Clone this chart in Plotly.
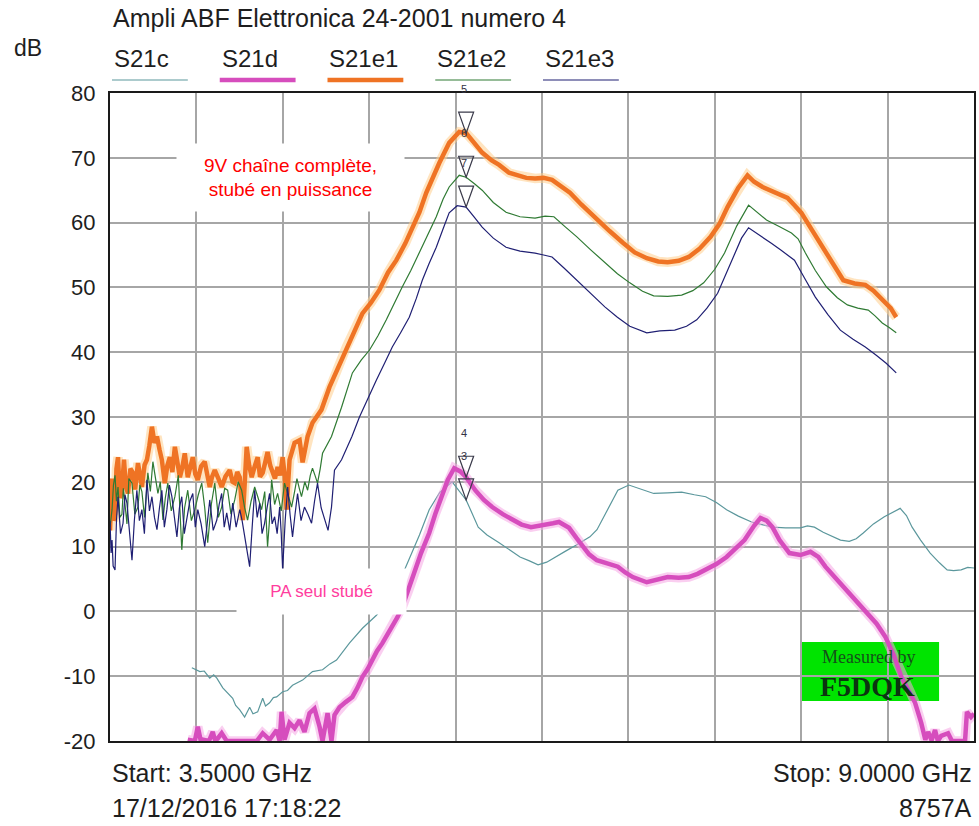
import plotly.graph_objects as go

# ---------------------------------------------------------------------------
# Sweep data, frequency in GHz, transmission S21 in dB
# ---------------------------------------------------------------------------
s21c_freq = [4.021, 4.050, 4.072, 4.100, 4.135, 4.160, 4.180, 4.218, 4.250, 4.281,
             4.300, 4.326, 4.357, 4.389, 4.410, 4.440, 4.472, 4.490, 4.516, 4.540,
             4.561, 4.599, 4.630, 4.662, 4.726, 4.789, 4.853, 4.900, 4.942, 5.024,
             5.107, 5.196, 5.250, 5.297, 5.350, 5.405, 5.470, 5.532, 5.600, 5.678,
             5.720, 5.767, 5.844, 5.900, 5.977, 6.040, 6.110, 6.170, 6.225, 6.280,
             6.333, 6.400, 6.466, 6.555, 6.600, 6.644, 6.690, 6.733, 6.803, 6.880,
             6.961, 7.050, 7.139, 7.220, 7.292, 7.360, 7.425, 7.500, 7.584, 7.650,
             7.717, 7.800, 7.895, 7.940, 7.984, 8.040, 8.098, 8.150, 8.206, 8.250,
             8.295, 8.360, 8.429, 8.480, 8.530, 8.570, 8.606, 8.660, 8.721, 8.780,
             8.829, 8.870, 8.918, 8.960, 9.000]
s21c_db = [-8.7, -9.0, -9.3, -9.2, -10.3, -9.8, -10.3, -11.8, -12.6, -13.4,
           -14.5, -15.2, -16.3, -14.8, -15.8, -15.5, -13.4, -14.6, -14.1, -13.3,
           -13.2, -12.4, -12.2, -11.4, -10.6, -9.3, -9.0, -8.1, -7.5, -4.9,
           -2.6, -0.6, 1.0, 2.5, 5.0, 8.0, 11.8, 15.7, 18.4, 20.0,
           18.6, 17.2, 13.0, 11.8, 10.6, 9.5, 8.4, 7.8, 7.2, 7.6,
           8.4, 9.3, 10.2, 11.5, 12.6, 14.6, 16.8, 18.7, 19.5, 18.9,
           18.2, 18.3, 18.4, 18.0, 17.7, 16.8, 15.7, 14.7, 13.8, 13.4,
           13.0, 12.9, 12.9, 13.2, 13.0, 12.2, 11.5, 11.0, 10.8, 11.2,
           12.1, 13.5, 14.6, 15.2, 15.9, 14.8, 13.0, 11.0, 9.0, 7.5,
           6.4, 6.3, 6.4, 6.8, 6.7]

s21d_freq = [3.995, 4.040, 4.059, 4.078, 4.091, 4.130, 4.154, 4.170, 4.186, 4.211,
             4.243, 4.434, 4.472, 4.516, 4.561, 4.580, 4.592, 4.611, 4.643, 4.675,
             4.707, 4.738, 4.770, 4.802, 4.834, 4.853, 4.885, 4.910, 4.929, 4.961,
             5.000, 5.043, 5.075, 5.107, 5.140, 5.170, 5.200, 5.234, 5.265, 5.297,
             5.330, 5.361, 5.400, 5.437, 5.480, 5.532, 5.570, 5.610, 5.650, 5.691,
             5.730, 5.767, 5.825, 5.880, 5.933, 6.000, 6.066, 6.120, 6.180, 6.269,
             6.320, 6.358, 6.422, 6.470, 6.510, 6.550, 6.599, 6.660, 6.733, 6.780,
             6.828, 6.917, 6.980, 7.050, 7.120, 7.184, 7.240, 7.292, 7.360, 7.425,
             7.480, 7.539, 7.600, 7.641, 7.680, 7.717, 7.762, 7.800, 7.825, 7.895,
             7.959, 8.009, 8.054, 8.120, 8.187, 8.250, 8.321, 8.380, 8.435, 8.490,
             8.537, 8.580, 8.625, 8.664, 8.690, 8.708, 8.730, 8.752, 8.770, 8.791,
             8.835, 8.860, 8.943, 8.955, 8.962, 8.981, 9.000]
s21d_db = [-19.8, -20.0, -17.8, -20.0, -19.8, -20.0, -18.6, -20.0, -19.6, -18.8,
           -20.0, -20.0, -18.8, -19.8, -18.3, -20.0, -15.5, -19.8, -17.2, -18.0,
           -16.8, -18.6, -15.7, -15.0, -17.8, -20.0, -15.7, -20.0, -16.0, -14.8,
           -14.0, -13.2, -11.8, -10.1, -8.9, -7.5, -6.1, -4.9, -3.7, -2.4,
           -0.9, 0.7, 3.2, 6.0, 9.0, 12.1, 15.0, 17.5, 20.3, 22.1,
           21.6, 20.7, 18.7, 17.2, 16.1, 15.0, 14.1, 13.4, 13.0, 13.3,
           13.6, 13.8, 12.9, 11.3, 9.9, 8.8, 7.9, 7.4, 6.9, 6.0,
           5.3, 4.5, 4.9, 5.3, 5.2, 5.3, 5.8, 6.4, 7.3, 8.4,
           9.6, 11.0, 13.2, 14.4, 14.0, 13.0, 11.0, 9.8, 9.0, 8.7,
           9.2, 8.4, 6.9, 5.1, 3.3, 1.6, -0.2, -1.9, -3.9, -6.8,
           -10.1, -12.0, -14.1, -17.2, -19.8, -18.6, -19.9, -18.3, -20.0, -19.2,
           -18.8, -20.0, -20.0, -15.5, -15.7, -16.3, -15.8]

s21e1_freq = [3.500, 3.507, 3.513, 3.522, 3.532, 3.541, 3.551, 3.563, 3.576, 3.589,
              3.600, 3.614, 3.630, 3.646, 3.660, 3.678, 3.690, 3.703, 3.720, 3.735,
              3.750, 3.767, 3.783, 3.799, 3.815, 3.830, 3.849, 3.865, 3.881, 3.897,
              3.913, 3.930, 3.945, 3.960, 3.976, 3.995, 4.010, 4.027, 4.043, 4.059,
              4.080, 4.103, 4.120, 4.135, 4.150, 4.167, 4.190, 4.211, 4.235, 4.262,
              4.280, 4.294, 4.310, 4.326, 4.345, 4.358, 4.370, 4.386, 4.402, 4.420,
              4.440, 4.455, 4.472, 4.488, 4.503, 4.520, 4.535, 4.550, 4.567, 4.583,
              4.599, 4.612, 4.624, 4.633, 4.643, 4.675, 4.707, 4.726, 4.758, 4.789,
              4.846, 4.897, 4.950, 5.005, 5.060, 5.107, 5.160, 5.215, 5.270, 5.323,
              5.380, 5.424, 5.470, 5.513, 5.560, 5.596, 5.659, 5.723, 5.767, 5.820,
              5.869, 5.930, 5.977, 6.040, 6.091, 6.150, 6.206, 6.260, 6.314, 6.370,
              6.428, 6.500, 6.580, 6.680, 6.765, 6.840, 6.917, 6.990, 7.050, 7.120,
              7.184, 7.250, 7.323, 7.380, 7.431, 7.500, 7.558, 7.600, 7.654, 7.730,
              7.813, 7.860, 7.901, 7.970, 8.035, 8.100, 8.168, 8.240, 8.308, 8.360,
              8.416, 8.470, 8.505]
s21e1_db = [12.5, 19.0, 20.5, 14.0, 15.0, 22.0, 23.8, 17.5, 18.7, 23.4,
            19.5, 18.2, 22.0, 21.4, 18.8, 22.9, 21.0, 19.2, 22.6, 23.4,
            25.5, 28.5, 26.0, 27.0, 25.0, 23.4, 19.8, 22.5, 23.8, 21.5,
            25.4, 23.0, 20.7, 22.2, 24.4, 20.7, 22.0, 23.8, 21.2, 20.3,
            22.4, 23.1, 21.0, 19.2, 20.8, 21.8, 20.5, 19.2, 20.8, 21.8,
            20.0, 19.8, 21.5, 20.7, 14.1, 19.0, 25.4, 22.5, 20.7, 22.3,
            23.8, 20.8, 21.4, 23.0, 24.6, 22.5, 21.4, 20.5, 22.3, 21.0,
            23.8, 21.0, 15.7, 19.5, 23.4, 26.0, 26.4, 23.0, 27.0, 29.1,
            31.1, 34.6, 37.5, 40.8, 43.6, 46.0, 47.6, 49.6, 52.3, 54.2,
            56.8, 59.3, 61.6, 64.6, 67.4, 69.2, 72.3, 74.0, 73.8, 72.3,
            70.8, 69.6, 68.9, 67.7, 67.3, 66.9, 66.8, 66.9, 66.6, 65.6,
            64.6, 62.8, 60.9, 58.7, 56.9, 55.4, 54.5, 54.0, 53.9, 54.1,
            54.7, 55.9, 57.8, 59.8, 62.4, 65.4, 67.3, 66.3, 65.5, 64.6,
            63.8, 62.6, 61.5, 58.8, 56.2, 53.6, 51.1, 50.6, 50.4, 49.5,
            48.1, 46.8, 45.4]

s21e2_freq = [3.500, 3.513, 3.522, 3.532, 3.541, 3.551, 3.563, 3.576, 3.585, 3.595,
              3.608, 3.620, 3.640, 3.658, 3.678, 3.690, 3.703, 3.720, 3.741, 3.757,
              3.773, 3.790, 3.805, 3.820, 3.837, 3.852, 3.868, 3.890, 3.913, 3.935,
              3.947, 3.957, 3.975, 3.995, 4.018, 4.040, 4.062, 4.084, 4.103, 4.122,
              4.145, 4.167, 4.190, 4.211, 4.230, 4.249, 4.270, 4.294, 4.316, 4.338,
              4.357, 4.376, 4.398, 4.421, 4.443, 4.465, 4.485, 4.503, 4.515, 4.529,
              4.548, 4.567, 4.590, 4.611, 4.633, 4.656, 4.675, 4.690, 4.705, 4.719,
              4.740, 4.758, 4.775, 4.789, 4.805, 4.821, 4.838, 4.853, 4.910, 4.974,
              5.043, 5.100, 5.151, 5.205, 5.259, 5.310, 5.361, 5.415, 5.469, 5.525,
              5.577, 5.620, 5.659, 5.723, 5.767, 5.820, 5.869, 5.940, 6.021, 6.110,
              6.206, 6.270, 6.326, 6.400, 6.472, 6.560, 6.650, 6.730, 6.809, 6.890,
              6.961, 7.050, 7.139, 7.210, 7.279, 7.350, 7.412, 7.490, 7.565, 7.620,
              7.679, 7.760, 7.838, 7.880, 7.927, 7.990, 8.060, 8.130, 8.194, 8.260,
              8.327, 8.370, 8.416, 8.460, 8.505]
s21e2_db = [13.0, 15.7, 19.5, 21.0, 17.0, 19.2, 14.5, 15.0, 19.0, 16.7,
            13.5, 20.5, 19.8, 15.0, 16.1, 19.5, 18.5, 14.5, 21.4, 18.5,
            23.1, 20.5, 18.2, 20.0, 14.1, 17.5, 19.8, 15.5, 17.7, 21.0,
            15.0, 9.5, 16.0, 18.7, 14.0, 15.7, 18.0, 19.8, 16.0, 10.6,
            16.5, 19.8, 14.5, 16.1, 19.0, 18.7, 15.0, 17.2, 20.0, 18.7,
            16.0, 14.1, 17.0, 19.2, 17.5, 15.7, 18.5, 10.0, 14.0, 20.3,
            16.5, 18.2, 15.5, 19.8, 18.0, 16.1, 18.5, 20.5, 19.0, 17.7,
            20.0, 18.7, 21.0, 22.1, 21.0, 19.8, 22.0, 24.4, 27.0, 31.5,
            36.8, 38.8, 40.3, 42.5, 45.0, 47.6, 50.1, 52.6, 55.3, 58.2,
            60.9, 63.6, 65.5, 67.3, 67.0, 66.0, 65.0, 63.1, 61.6, 60.9,
            60.7, 61.0, 60.9, 59.3, 57.8, 55.8, 53.8, 52.1, 50.7, 49.4,
            48.7, 48.6, 48.8, 49.5, 50.7, 52.8, 55.3, 59.5, 62.7, 61.6,
            60.4, 59.4, 58.4, 57.5, 55.3, 52.6, 50.1, 48.4, 47.3, 46.8,
            46.5, 45.6, 44.5, 43.8, 43.0]

s21e3_freq = [3.500, 3.507, 3.513, 3.520, 3.532, 3.541, 3.551, 3.567, 3.583, 3.595,
              3.608, 3.624, 3.640, 3.655, 3.671, 3.687, 3.703, 3.719, 3.735, 3.751,
              3.767, 3.783, 3.799, 3.815, 3.830, 3.846, 3.862, 3.878, 3.894, 3.910,
              3.926, 3.942, 3.957, 3.973, 3.989, 4.008, 4.027, 4.043, 4.059, 4.080,
              4.103, 4.119, 4.135, 4.157, 4.180, 4.195, 4.211, 4.227, 4.243, 4.262,
              4.281, 4.303, 4.326, 4.341, 4.357, 4.373, 4.389, 4.405, 4.421, 4.437,
              4.453, 4.468, 4.484, 4.500, 4.516, 4.532, 4.548, 4.564, 4.580, 4.590,
              4.599, 4.615, 4.631, 4.646, 4.662, 4.678, 4.694, 4.716, 4.738, 4.760,
              4.783, 4.802, 4.821, 4.844, 4.866, 4.888, 4.910, 4.929, 4.974, 4.993,
              5.040, 5.088, 5.140, 5.196, 5.250, 5.297, 5.350, 5.405, 5.450, 5.488,
              5.530, 5.577, 5.620, 5.659, 5.710, 5.767, 5.820, 5.869, 5.940, 6.021,
              6.110, 6.206, 6.260, 6.314, 6.390, 6.472, 6.560, 6.650, 6.730, 6.809,
              6.917, 7.000, 7.095, 7.170, 7.235, 7.300, 7.368, 7.420, 7.476, 7.520,
              7.565, 7.654, 7.710, 7.768, 7.857, 7.920, 7.990, 8.070, 8.149, 8.230,
              8.308, 8.380, 8.441, 8.505]
s21e3_db = [14.0, 9.0, 11.0, 7.0, 6.4, 14.0, 17.7, 12.0, 13.6, 18.0,
            16.7, 12.5, 7.9, 14.0, 18.7, 14.0, 15.7, 12.0, 20.3, 15.5,
            17.7, 14.5, 12.6, 16.0, 18.7, 13.0, 15.7, 19.5, 17.7, 14.5,
            11.5, 16.0, 17.7, 12.0, 14.1, 17.0, 18.2, 13.0, 15.7, 13.5,
            10.0, 14.0, 17.2, 12.5, 14.1, 16.5, 18.2, 13.0, 15.2, 12.5,
            16.7, 13.0, 15.7, 14.0, 11.5, 9.0, 6.9, 13.0, 18.7, 14.5,
            16.7, 12.0, 13.6, 16.0, 18.2, 13.5, 14.6, 12.0, 16.1, 12.0,
            6.4, 14.0, 19.2, 15.0, 11.5, 15.0, 18.2, 14.0, 16.1, 15.0,
            13.6, 17.0, 19.8, 16.0, 14.1, 12.5, 16.1, 21.8, 23.4, 24.4,
            27.0, 30.0, 32.8, 35.7, 38.4, 40.8, 43.0, 45.4, 48.3, 51.1,
            53.6, 56.2, 59.0, 61.5, 62.6, 62.4, 60.8, 59.3, 57.6, 56.2,
            55.6, 55.3, 55.0, 54.7, 53.0, 51.1, 49.1, 47.0, 45.4, 44.0,
            43.0, 43.3, 43.4, 44.0, 45.0, 46.8, 49.1, 52.0, 55.3, 57.6,
            59.2, 57.8, 56.8, 55.8, 54.2, 51.5, 48.5, 45.8, 43.4, 42.0,
            40.8, 39.5, 38.3, 36.8]

series_names = ["S21c", "S21d", "S21e1", "S21e2", "S21e3"]
series_freq = [s21c_freq, s21d_freq, s21e1_freq, s21e2_freq, s21e3_freq]
series_db = [s21c_db, s21d_db, s21e1_db, s21e2_db, s21e3_db]

# Analyzer markers: all five sit at the same frequency, one per trace
marker_freq = 5.767
marker_ids = ["3", "4", "5", "6", "7"]
marker_db = [17.2, 20.7, 73.8, 67.0, 62.4]

# Display axes
x_start, x_stop, x_div = 3.5, 9.0, 0.55
y_min, y_max, y_div = -20, 80, 10
y_ticks = list(range(y_min, y_max + 1, y_div))

# ---------------------------------------------------------------------------
# Styling
# ---------------------------------------------------------------------------
colors = ["#5b979c", "#d64dbd", "#ef7324", "#2f7a33", "#1f1f73"]
widths = [1.2, 4.5, 4.5, 1.2, 1.2]
halos = [None, "rgba(246,165,228,0.55)", "rgba(255,205,140,0.55)", None, None]

W, H = 979, 826
ML, MR, MT, MB = 110, 3, 93, 85
PW, PH = W - ML - MR, H - MT - MB

SANS = "Liberation Sans, Arial, sans-serif"
SERIF = "Liberation Serif, Times New Roman, serif"
INK = "#1e1e1e"


def px_x(p):
    return (p - ML) / PW


def px_y(p):
    return (H - MB - p) / PH


fig = go.Figure()

for name, fx, db, col, w, halo in zip(series_names, series_freq, series_db,
                                      colors, widths, halos):
    if halo:
        fig.add_trace(go.Scatter(x=fx, y=db, mode="lines", hoverinfo="skip",
                                 line=dict(color=halo, width=w + 5),
                                 showlegend=False))
    fig.add_trace(go.Scatter(x=fx, y=db, mode="lines", name=name,
                             line=dict(color=col, width=w), showlegend=False))

annotations = []
shapes = []

# Marker triangles (apex on the trace) and their numbers
for mid, mdb in zip(marker_ids, marker_db):
    shapes.append(dict(type="path", xref="x", yref="y",
                       xsizemode="pixel", ysizemode="pixel",
                       xanchor=marker_freq, yanchor=mdb,
                       path="M -7.5 21 L 7.5 21 L 0 0 Z",
                       line=dict(color="#3a3a4a", width=1.2),
                       fillcolor="rgba(255,255,255,0)", layer="above"))
    annotations.append(dict(x=marker_freq, y=mdb, xref="x", yref="y",
                            text=mid, showarrow=False, yshift=44, xshift=-2,
                            xanchor="center", yanchor="middle",
                            font=dict(family=SANS, size=11, color="#333344")))

# Title, unit and custom legend above the graticule
annotations.append(dict(x=px_x(111), y=px_y(18), xref="paper", yref="paper",
                        text="Ampli ABF Elettronica 24-2001 numero 4",
                        showarrow=False, xanchor="left", yanchor="middle",
                        font=dict(family=SANS, size=25, color=INK)))
annotations.append(dict(x=px_x(12), y=px_y(48), xref="paper", yref="paper",
                        text="dB", showarrow=False, xanchor="left",
                        yanchor="middle",
                        font=dict(family=SANS, size=23, color=INK)))

LEG_X0, LEG_STEP, LEG_LEN = 112, 108, 76
for i, (name, col, w) in enumerate(zip(series_names, colors, widths)):
    x0 = LEG_X0 + i * LEG_STEP
    annotations.append(dict(x=px_x(x0), y=px_y(58), xref="paper", yref="paper",
                            text=name, showarrow=False, xanchor="left",
                            yanchor="middle",
                            font=dict(family=SANS, size=24, color=INK)))
    shapes.append(dict(type="line", xref="paper", yref="paper",
                       x0=px_x(x0), x1=px_x(x0 + LEG_LEN),
                       y0=px_y(80), y1=px_y(80),
                       line=dict(color=col, width=w)))

# Sweep information under the graticule
for txt, xa, xp, yp in [("Start: 3.5000 GHz", "left", 110, 773),
                        ("Stop: 9.0000 GHz", "right", 976, 773),
                        ("17/12/2016 17:18:22", "left", 110, 808),
                        ("8757A", "right", 976, 808)]:
    annotations.append(dict(x=px_x(xp), y=px_y(yp), xref="paper", yref="paper",
                            text=txt, showarrow=False, xanchor=xa,
                            yanchor="middle",
                            font=dict(family=SANS, size=25, color=INK)))

# Notes placed on the graph
annotations.append(dict(x=px_x(290.5), y=px_y(177.5), xref="paper", yref="paper",
                        text="9V chaîne complète,<br>stubé en puissance",
                        showarrow=False, width=225, height=65, align="center",
                        xanchor="center", yanchor="middle", bgcolor="white",
                        font=dict(family=SANS, size=19, color="#ff0000")))
annotations.append(dict(x=px_x(321.5), y=px_y(591.5), xref="paper", yref="paper",
                        text="PA seul stubé", showarrow=False, width=167,
                        height=43, align="center", xanchor="center",
                        yanchor="middle", bgcolor="white",
                        font=dict(family=SANS, size=17, color="#ff3d9e")))

# Author stamp
shapes.append(dict(type="rect", xref="paper", yref="paper",
                   x0=px_x(803), x1=px_x(941), y0=px_y(701), y1=px_y(642),
                   fillcolor="#00e400", line=dict(width=0), layer="between"))
annotations.append(dict(x=px_x(870), y=px_y(657), xref="paper", yref="paper",
                        text="Measured by", showarrow=False,
                        xanchor="center", yanchor="middle",
                        font=dict(family=SERIF, size=18, color="#15501a")))
annotations.append(dict(x=px_x(869), y=px_y(686), xref="paper", yref="paper",
                        text="<b>F5DQK</b>", showarrow=False,
                        xanchor="center", yanchor="middle",
                        font=dict(family=SERIF, size=28, color="#0c3410")))

fig.update_layout(
    width=W, height=H,
    margin=dict(l=ML, r=MR, t=MT, b=MB, pad=0),
    paper_bgcolor="white", plot_bgcolor="white",
    showlegend=False,
    annotations=annotations,
    shapes=shapes,
    xaxis=dict(range=[x_start, x_stop], tick0=x_start, dtick=x_div,
               showticklabels=False, ticks="", showgrid=True,
               gridcolor="#a6a6a6", gridwidth=1.5, zeroline=False,
               showline=True, linecolor="#1a1a1a", linewidth=2, mirror=True,
               fixedrange=True),
    yaxis=dict(range=[y_min, y_max], tickvals=y_ticks,
               ticktext=[str(v) for v in y_ticks], ticks="",
               ticklabelstandoff=8, showgrid=True, gridcolor="#a6a6a6",
               gridwidth=1.5, zeroline=False, showline=True,
               linecolor="#1a1a1a", linewidth=2, mirror=True,
               tickfont=dict(family=SANS, size=22, color=INK),
               fixedrange=True),
)

fig.write_html("out.html")
